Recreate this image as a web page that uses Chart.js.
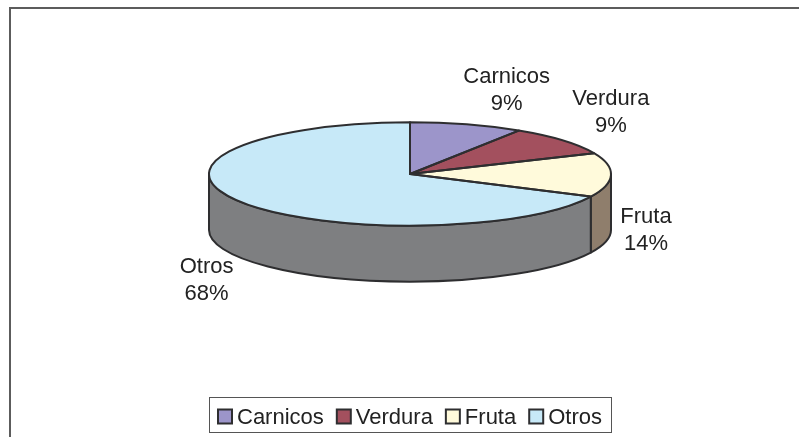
<!DOCTYPE html>
<html>
<head>
<meta charset="utf-8">
<title>Pie 3D</title>
<script src="https://cdn.jsdelivr.net/npm/chart.js@4.4.0/dist/chart.umd.min.js"></script>
<style>
  html, body { margin: 0; padding: 0; background: #ffffff; }
  #wrap { position: relative; width: 799px; height: 437px; }
</style>
</head>
<body>
<div id="wrap"><canvas id="myChart" width="799" height="437"></canvas></div>
<script>
// datos
var categories = ["Carnicos", "Verdura", "Fruta", "Otros"];
var values = [9.1, 9.3, 13.8, 67.8];

// colores (tapa y lateral)
var topColors = ["#9c95ca", "#a3505e", "#fffadb", "#c7e9f8"];
var sideColors = ["#5e5985", "#6a343f", "#8f7e6c", "#7e7f81"];

// desplazamiento de las etiquetas respecto al borde de cada porcion
var labelNudge = [[40, -35], [48, -29], [35, 54], [-33, 78]];

var RX = 201;      // radio horizontal
var TILT = 0.257;  // aplastamiento vertical
var DEPTH = 56;    // altura del cilindro
var LINE = "#2e2e30";
var FONT = '22px "Liberation Sans", Arial, sans-serif';

var total = values.reduce(function (a, b) { return a + b; }, 0);

var pie3d = {
  id: "pie3d",
  beforeDraw: function (chart) {
    var ctx = chart.ctx;
    ctx.save();
    ctx.strokeStyle = "#5c5c5c";
    ctx.lineWidth = 2;
    ctx.beginPath();
    ctx.moveTo(10, 437);
    ctx.lineTo(10, 8);
    ctx.lineTo(799, 8);
    ctx.stroke();
    ctx.restore();
  },
  beforeDatasetsDraw: function (chart) {
    var ctx = chart.ctx;
    var arcs = chart.getDatasetMeta(0).data;
    var cx = arcs[0].x, cy = arcs[0].y, ry = RX * TILT;

    // paredes laterales (solo la mitad delantera)
    ctx.save();
    ctx.lineWidth = 2;
    ctx.lineJoin = "round";
    ctx.strokeStyle = LINE;
    arcs.forEach(function (arc, i) {
      var a1 = Math.max(arc.startAngle, 0);
      var a2 = Math.min(arc.endAngle, Math.PI);
      if (a2 <= a1) return;
      ctx.beginPath();
      ctx.ellipse(cx, cy, RX, ry, 0, a1, a2, false);
      ctx.lineTo(cx + RX * Math.cos(a2), cy + ry * Math.sin(a2) + DEPTH);
      ctx.ellipse(cx, cy + DEPTH, RX, ry, 0, a2, a1, true);
      ctx.closePath();
      ctx.fillStyle = sideColors[i];
      ctx.fill();
      ctx.stroke();
    });
    ctx.restore();

    // la tapa la dibuja Chart.js, aplastada
    ctx.save();
    ctx.translate(cx, cy);
    ctx.scale(1, TILT);
    ctx.translate(-cx, -cy);
  },
  afterDatasetsDraw: function (chart) {
    var ctx = chart.ctx;
    ctx.restore();

    var arcs = chart.getDatasetMeta(0).data;
    var cx = arcs[0].x, cy = arcs[0].y, ry = RX * TILT;

    // contorno de la tapa
    ctx.save();
    ctx.lineWidth = 2;
    ctx.lineJoin = "round";
    ctx.strokeStyle = LINE;
    arcs.forEach(function (arc) {
      ctx.beginPath();
      ctx.moveTo(cx, cy);
      ctx.ellipse(cx, cy, RX, ry, 0, arc.startAngle, arc.endAngle, false);
      ctx.closePath();
      ctx.stroke();
    });

    // etiquetas
    ctx.font = FONT;
    ctx.fillStyle = "#222222";
    ctx.textAlign = "center";
    ctx.textBaseline = "alphabetic";
    arcs.forEach(function (arc, i) {
      var mid = (arc.startAngle + arc.endAngle) / 2;
      var px = cx + RX * Math.cos(mid) + labelNudge[i][0];
      var py = cy + ry * Math.sin(mid) + labelNudge[i][1];
      var pct = Math.round(values[i] / total * 100);
      ctx.fillText(categories[i], px, py - 6);
      ctx.fillText(pct + "%", px, py + 21);
    });
    ctx.restore();
  },
  afterDraw: function (chart) {
    // leyenda
    var ctx = chart.ctx;
    var cx = chart.getDatasetMeta(0).data[0].x;
    var box = 14, gapText = 5, gapItem = 13, pad = 9;
    ctx.save();
    ctx.font = FONT;
    var widths = categories.map(function (c) { return ctx.measureText(c).width; });
    var full = widths.reduce(function (a, w) { return a + box + gapText + w; }, 0) + gapItem * (categories.length - 1);
    var x = Math.round(cx - full / 2);

    ctx.strokeStyle = "#555555";
    ctx.lineWidth = 1;
    ctx.strokeRect(x - pad + 0.5, 397.5, Math.round(full + pad * 2), 35);

    ctx.textAlign = "left";
    ctx.textBaseline = "alphabetic";
    categories.forEach(function (c, i) {
      ctx.fillStyle = topColors[i];
      ctx.fillRect(x, 409.5, box, box);
      ctx.strokeStyle = LINE;
      ctx.lineWidth = 2;
      ctx.strokeRect(x, 409.5, box, box);
      ctx.fillStyle = "#222222";
      ctx.fillText(c, x + box + gapText, 424);
      x += box + gapText + widths[i] + gapItem;
    });
    ctx.restore();
  }
};

var ctx = document.getElementById("myChart").getContext("2d");
var chart = new Chart(ctx, {
  type: "pie",
  data: {
    labels: categories,
    datasets: [
      {
        data: values,
        backgroundColor: topColors,
        borderWidth: 0,
        radius: RX,
        clip: false
      }
    ]
  },
  options: {
    responsive: false,
    animation: false,
    events: [],
    layout: { padding: { left: 21, right: 0, top: 0, bottom: 89 } },
    plugins: {
      legend: { display: false },
      tooltip: { enabled: false }
    }
  },
  plugins: [pie3d]
});
</script>
</body>
</html>
